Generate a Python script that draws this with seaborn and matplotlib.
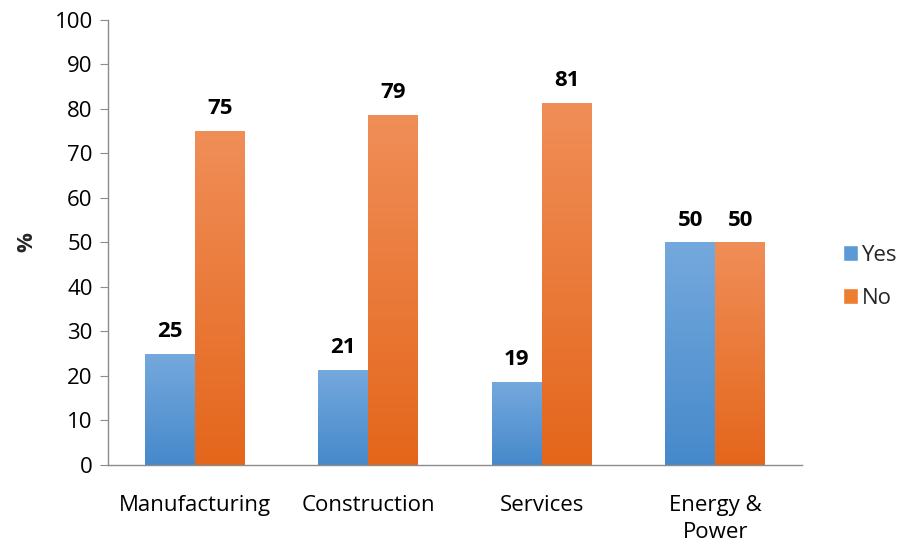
import numpy as np
import pandas as pd
import matplotlib
matplotlib.use('Agg')
import matplotlib.pyplot as plt
from matplotlib.colors import LinearSegmentedColormap
from matplotlib.patches import Patch
import seaborn as sns

# data
sectors = ['Manufacturing', 'Construction', 'Services', 'Energy &\nPower']
yes_vals = [25.0, 21.4, 18.7, 50.0]
no_vals = [75.0, 78.6, 81.3, 50.0]
yes_labels = ['25', '21', '19', '50']
no_labels = ['75', '79', '81', '50']

df = pd.DataFrame({
    'sector': sectors * 2,
    'answer': ['Yes'] * 4 + ['No'] * 4,
    'pct': yes_vals + no_vals,
})

sns.set_style('white')
plt.rcParams['font.family'] = ['Open Sans', 'DejaVu Sans']

# gradient colours (top -> bottom), Excel style
grad = {
    'Yes': ('#75a9dd', '#4689cb'),
    'No': ('#f08e58', '#e4661b'),
}
solid = {'Yes': '#5b9bd5', 'No': '#ed7d31'}
fs = 16

fig = plt.figure(figsize=(9.03, 5.46), dpi=100)
ax = fig.add_axes([0.1196, 0.1484, 0.7685, 0.815])

sns.barplot(data=df, x='sector', y='pct', hue='answer', hue_order=['Yes', 'No'],
            palette=solid, width=0.576, ax=ax, legend=False, saturation=1)

# paint a vertical gradient into each bar
grad_img = np.linspace(0, 1, 256).reshape(-1, 1)
for cont, ans, labels in zip(ax.containers, ['Yes', 'No'], [yes_labels, no_labels]):
    cmap = LinearSegmentedColormap.from_list(ans, [grad[ans][1], grad[ans][0]])
    for bar, lab in zip(cont, labels):
        x0, y0 = bar.get_x(), bar.get_y()
        w, h = bar.get_width(), bar.get_height()
        im = ax.imshow(grad_img, cmap=cmap, origin='lower', aspect='auto',
                       extent=[x0, x0 + w, y0, y0 + h], zorder=bar.get_zorder() + 0.1)
        im.set_clip_path(bar)
        bar.set_edgecolor('none')
        ax.annotate(lab, (x0 + w / 2, y0 + h), xytext=(0, 8.5), textcoords='offset points',
                    ha='center', va='bottom', fontsize=fs, fontweight='bold', color='black')

ax.set_ylim(0, 100)
ax.set_xlim(-0.5, 3.5)
ax.set_yticks(np.arange(0, 101, 10))

for side in ['top', 'right']:
    ax.spines[side].set_visible(False)
for side in ['left', 'bottom']:
    ax.spines[side].set_color('#8c8c8c')
    ax.spines[side].set_linewidth(1)

ax.tick_params(axis='y', which='both', left=True, length=6, color='#8c8c8c',
               labelsize=fs, pad=5, labelcolor='black')
ax.tick_params(axis='x', bottom=False, labelsize=fs, pad=18, labelcolor='black')
for t in ax.get_xticklabels():
    t.set_linespacing(1.4)
ax.set_xlabel('')
ax.set_ylabel('%', fontsize=fs, fontweight='bold', labelpad=12)

handles = [Patch(facecolor=solid['Yes'], label='Yes'), Patch(facecolor=solid['No'], label='No')]
fig.legend(handles=handles, loc='center left', bbox_to_anchor=(0.911, 0.493),
           frameon=False, fontsize=fs, handlelength=0.7, handleheight=0.7,
           handletextpad=0.15, labelspacing=1.0)

fig.savefig('out.png', dpi=100)
